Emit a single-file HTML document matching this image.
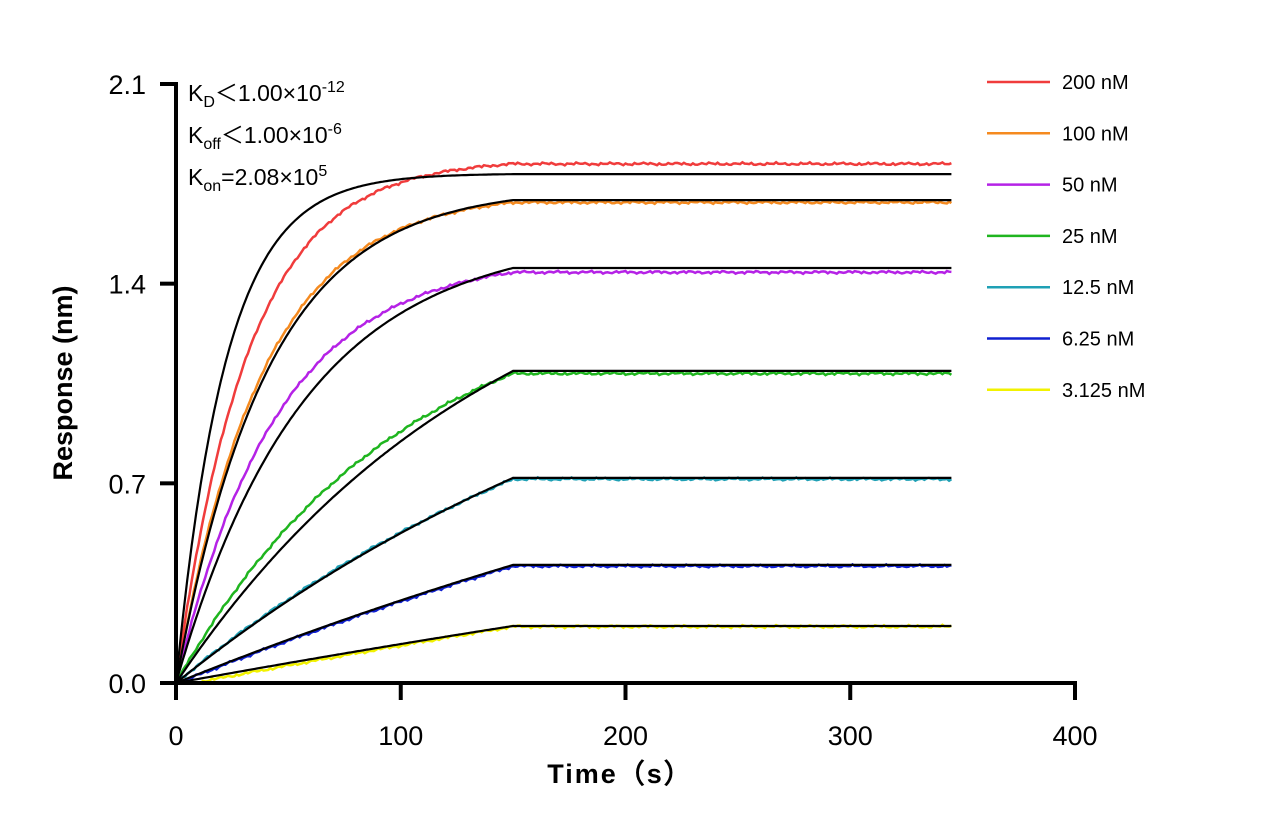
<!DOCTYPE html>
<html><head><meta charset="utf-8">
<style>
html,body{margin:0;padding:0;background:#fff;}
svg{display:block;font-family:"Liberation Sans",Arial,sans-serif;}
</style></head>
<body>
<svg id="chart" width="1271" height="836" viewBox="0 0 1271 836" xmlns="http://www.w3.org/2000/svg">
<g id="plot"></g>
<g font-size="23" fill="#000">
<text x="188" y="101">K<tspan font-size="16" dy="6">D</tspan><tspan dy="-6">＜1.00×10</tspan><tspan font-size="16" dy="-9">-12</tspan></text>
<text x="188" y="143">K<tspan font-size="16" dy="6">off</tspan><tspan dy="-6">＜1.00×10</tspan><tspan font-size="16" dy="-9">-6</tspan></text>
<text x="188" y="185">K<tspan font-size="16" dy="6">on</tspan><tspan dy="-6">=2.08×10</tspan><tspan font-size="16" dy="-9">5</tspan></text>
</g>
<text x="620" y="783" font-size="27" font-weight="bold" text-anchor="middle" letter-spacing="2">Time（s）</text>
<text transform="translate(72,383) rotate(-90)" font-size="27" font-weight="bold" text-anchor="middle">Response (nm)</text>
<g id="legend"></g>
</svg>
<script>
const concLabels=["200 nM","100 nM","50 nM","25 nM","12.5 nM","6.25 nM","3.125 nM"];
const colors=["#f03c3c","#f58a1f","#b522e6","#1fb51f","#1fa0b5","#1020d0","#f2f200"];
const fitPlateau=[1.784,1.693,1.455,1.094,0.719,0.414,0.200];
const fitK=[0.045,0.0245,0.0175,0.007,0.004,0.002,0.001];
const dataPlateau=[1.82,1.685,1.44,1.085,0.715,0.41,0.198];
const dataK=[0.031,0.026,0.022,0.010,0.0045,0.002,0.001];
const dataDelay=[0,0,0,0,0,1,8];
const xTicks=[0,100,200,300,400];
const yTicks=[0.0,0.7,1.4,2.1];
const tAssocEnd=150, tEnd=345;
const sx=t=>176+t*(1075-176)/400;
const sy=v=>683-v*(683-84)/2.1;
const NS="http://www.w3.org/2000/svg";
const plot=document.getElementById('plot');
function mk(tag,attrs,parent){const e=document.createElementNS(NS,tag);for(const k in attrs)e.setAttribute(k,attrs[k]);(parent||plot).appendChild(e);return e;}
function resp(p,k,t,t0){t0=t0||0;const A=p/(1-Math.exp(-k*(tAssocEnd-t0)));if(t<t0)return 0;return t<=tAssocEnd?A*(1-Math.exp(-k*(t-t0))):p;}
for(let i=colors.length-1;i>=0;i--){
  let d="";
  for(let t=0;t<=tEnd;t+=1){
    const n=0.0025*Math.sin(t*1.7+i)+0.002*Math.sin(t*0.43+2*i)+0.0015*Math.sin(t*2.9+3*i);
    const v=Math.max(0,resp(dataPlateau[i],dataK[i],t,dataDelay[i])+(t>2?n:0));
    d+=(t?"L":"M")+sx(t).toFixed(1)+","+sy(v).toFixed(1);
  }
  const p=mk('path',{d:d,fill:"none",stroke:colors[i],"stroke-width":2.5});
  
  
}
for(let i=0;i<colors.length;i++){
  let d="";
  for(let t=0;t<=tEnd;t+=1){
    d+=(t?"L":"M")+sx(t).toFixed(1)+","+sy(resp(fitPlateau[i],fitK[i],t)).toFixed(1);
  }
  const p=mk('path',{d:d,fill:"none",stroke:"#000","stroke-width":2.2});
  
  
}
const ya=mk('line',{x1:176,y1:82,x2:176,y2:685,stroke:"#000","stroke-width":4});


const xa=mk('line',{x1:174,y1:683,x2:1077,y2:683,stroke:"#000","stroke-width":4});


yTicks.forEach(v=>{
  const l=mk('line',{x1:160,y1:sy(v),x2:176,y2:sy(v),stroke:"#000","stroke-width":4});
  
  
  const t=mk('text',{x:146,y:sy(v)+10,"font-size":27,"text-anchor":"end"});
  t.textContent=v.toFixed(1);
  
  
});
xTicks.forEach(v=>{
  const l=mk('line',{x1:sx(v),y1:683,x2:sx(v),y2:700,stroke:"#000","stroke-width":4});
  
  
  const t=mk('text',{x:sx(v),y:745,"font-size":27,"text-anchor":"middle"});
  t.textContent=v;
  
  
});
const lg=document.getElementById('legend');
concLabels.forEach((c,i)=>{
  const y=82+i*51.3;
  const g=mk('g',{},lg);
  
  
  const l=mk('line',{x1:987,y1:y,x2:1050,y2:y,stroke:colors[i],"stroke-width":2.5},g);
  
  
  const t=mk('text',{x:1062,y:y+7,"font-size":20},g);
  t.textContent=c;
  
  
});
</script>
</body></html>
